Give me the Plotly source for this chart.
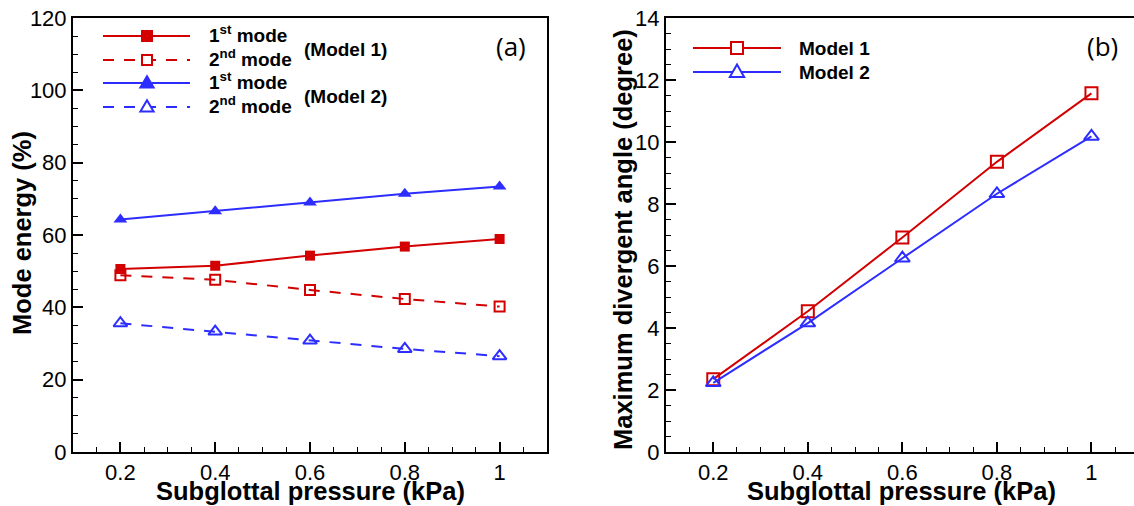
import plotly.graph_objects as go

# ---------------- data ----------------
pressure = [0.2, 0.4, 0.6, 0.8, 1.0]
x_tick_vals = [0.2, 0.4, 0.6, 0.8, 1.0]
x_tick_text = ["0.2", "0.4", "0.6", "0.8", "1"]

m1_first_mode = [50.6, 51.5, 54.3, 56.8, 58.9]
m1_second_mode = [48.9, 47.6, 44.8, 42.3, 40.2]
m2_first_mode = [64.3, 66.6, 69.0, 71.4, 73.4]
m2_second_mode = [35.6, 33.3, 30.8, 28.5, 26.5]

angle_model1 = [2.35, 4.54, 6.92, 9.36, 11.57]
angle_model2 = [2.23, 4.16, 6.25, 8.33, 10.18]

# ---------------- styles ----------------
RED = "#d20000"
BLUE = "#2d2dff"
DASH = "11px,10px"
W, H = 1134, 506
FONT = "Liberation Sans, Arial, sans-serif"


def px(x):
    return x / W


def py(y):
    return 1 - y / H


fig = go.Figure()

# panel (a)
fig.add_trace(go.Scatter(x=pressure, y=m1_first_mode, mode="lines+markers",
                         line=dict(color=RED, width=2),
                         marker=dict(symbol="square", size=10, color=RED),
                         xaxis="x", yaxis="y"))
fig.add_trace(go.Scatter(x=pressure, y=m1_second_mode, mode="lines+markers",
                         line=dict(color=RED, width=2, dash=DASH),
                         marker=dict(symbol="square-open", size=10, color=RED,
                                     line=dict(width=2, color=RED)),
                         xaxis="x", yaxis="y"))
fig.add_trace(go.Scatter(x=pressure, y=m2_first_mode, mode="lines+markers",
                         line=dict(color=BLUE, width=2),
                         marker=dict(symbol="triangle-up", size=12, color=BLUE),
                         xaxis="x", yaxis="y"))
fig.add_trace(go.Scatter(x=pressure, y=m2_second_mode, mode="lines+markers",
                         line=dict(color=BLUE, width=2, dash=DASH),
                         marker=dict(symbol="triangle-up-open", size=12, color=BLUE,
                                     line=dict(width=2, color=BLUE)),
                         xaxis="x", yaxis="y"))

# panel (b)
fig.add_trace(go.Scatter(x=pressure, y=angle_model1, mode="lines+markers",
                         line=dict(color=RED, width=2),
                         marker=dict(symbol="square-open", size=12, color=RED,
                                     line=dict(width=2, color=RED)),
                         xaxis="x2", yaxis="y2"))
fig.add_trace(go.Scatter(x=pressure, y=angle_model2, mode="lines+markers",
                         line=dict(color=BLUE, width=2),
                         marker=dict(symbol="triangle-up-open", size=13, color=BLUE,
                                     line=dict(width=2, color=BLUE)),
                         xaxis="x2", yaxis="y2"))

axis_common = dict(
    showgrid=False, zeroline=False, showline=True, linewidth=2, linecolor="black",
    ticks="inside", ticklen=10, tickwidth=2, tickcolor="black", automargin=False,
    tickfont=dict(size=22, color="black", family=FONT),
)

ydom = [py(452), py(18)]

fig.update_layout(
    width=W, height=H,
    margin=dict(l=0, r=0, t=0, b=0, pad=0, autoexpand=False),
    paper_bgcolor="white", plot_bgcolor="white",
    showlegend=False,
    font=dict(family=FONT, color="black"),
    xaxis=dict(domain=[px(73), px(547)], range=[0.1, 1.1], anchor="y",
               tickvals=x_tick_vals, ticktext=x_tick_text, mirror=True,
               minor=dict(dtick=0.05, tick0=0.1, ticks="inside", ticklen=5,
                          tickwidth=1, tickcolor="black"),
               **axis_common),
    yaxis=dict(domain=ydom, range=[0, 120], anchor="x", dtick=20, tick0=0,
               mirror=True,
               minor=dict(dtick=5, tick0=0, ticks="inside", ticklen=5,
                          tickwidth=1, tickcolor="black"),
               **axis_common),
    xaxis2=dict(domain=[px(666), 1.0], range=[0.1, 1.09], anchor="y2",
                tickvals=x_tick_vals, ticktext=x_tick_text, mirror=True,
                minor=dict(dtick=0.05, tick0=0.1, ticks="inside", ticklen=5,
                           tickwidth=1, tickcolor="black"),
                **axis_common),
    yaxis2=dict(domain=ydom, range=[0, 14], anchor="x2", dtick=2, tick0=0,
                mirror=False,
                minor=dict(dtick=0.5, tick0=0, ticks="inside", ticklen=5,
                           tickwidth=1, tickcolor="black"),
                **axis_common),
)

TITLE_FONT = dict(size=25.5, color="black", family=FONT, weight="bold")
LEG_FONT = dict(size=19, color="black", family=FONT, weight="bold")
annotations = [
    dict(text="Mode energy (%)", x=px(22), y=py(233), textangle=-90,
         font=TITLE_FONT),
    dict(text="Subglottal pressure (kPa)", x=px(310), y=py(491), font=TITLE_FONT),
    dict(text="Maximum divergent angle (degree)", x=px(623), y=py(240),
         textangle=-90, font=TITLE_FONT),
    dict(text="Subglottal pressure (kPa)", x=px(901), y=py(491), font=TITLE_FONT),
    dict(text="(a)", x=px(511), y=py(46),
         font=dict(size=26, color="black", family="Open Sans, sans-serif")),
    dict(text="(b)", x=px(1102), y=py(46),
         font=dict(size=26, color="black", family="Open Sans, sans-serif")),
    # legend texts panel (a)
    dict(text="1<sup>st</sup> mode", x=px(207), y=py(34), xanchor="left", font=LEG_FONT),
    dict(text="2<sup>nd</sup> mode", x=px(207), y=py(58), xanchor="left", font=LEG_FONT),
    dict(text="1<sup>st</sup> mode", x=px(207), y=py(81), xanchor="left", font=LEG_FONT),
    dict(text="2<sup>nd</sup> mode", x=px(207), y=py(105), xanchor="left", font=LEG_FONT),
    dict(text="(Model 1)", x=px(302), y=py(50), xanchor="left", font=LEG_FONT),
    dict(text="(Model 2)", x=px(302), y=py(96), xanchor="left", font=LEG_FONT),
    # legend texts panel (b)
    dict(text="Model 1", x=px(797), y=py(48), xanchor="left", font=LEG_FONT),
    dict(text="Model 2", x=px(797), y=py(72), xanchor="left", font=LEG_FONT),
]
for a in annotations:
    a.update(xref="paper", yref="paper", showarrow=False)
    a.setdefault("xanchor", "center")
    a.setdefault("yanchor", "middle")
fig.update_layout(annotations=annotations)

# legend samples as layout shapes
shapes = []


def leg_line(x0, x1, y, color, dash):
    shapes.append(dict(type="line", xref="paper", yref="paper",
                       x0=px(x0), x1=px(x1), y0=py(y), y1=py(y),
                       line=dict(color=color, width=2, dash=dash)))


def leg_square(cx, cy, s, color, filled):
    shapes.append(dict(type="rect", xref="paper", yref="paper",
                       x0=px(cx - s / 2), x1=px(cx + s / 2),
                       y0=py(cy - s / 2), y1=py(cy + s / 2),
                       fillcolor=color if filled else "white",
                       line=dict(color=color, width=2)))


def leg_triangle(cx, cy, s, color, filled):
    w = s * 1.1
    h = s * 0.95
    pts = [(cx, cy - h * 0.6), (cx + w / 2, cy + h * 0.4), (cx - w / 2, cy + h * 0.4)]
    path = "M {} {} L {} {} L {} {} Z".format(*[v for p in pts for v in (px(p[0]), py(p[1]))])
    shapes.append(dict(type="path", xref="paper", yref="paper", path=path,
                       fillcolor=color if filled else "white",
                       line=dict(color=color, width=2)))


leg_line(103, 190, 36, RED, "solid")
leg_square(147, 36, 10, RED, True)
leg_line(103, 190, 60, RED, DASH)
leg_square(147, 60, 10, RED, False)
leg_line(103, 190, 83, BLUE, "solid")
leg_triangle(147, 83, 12, BLUE, True)
leg_line(103, 190, 107, BLUE, DASH)
leg_triangle(147, 107, 12, BLUE, False)

leg_line(693, 781, 48, RED, "solid")
leg_square(737, 48, 12, RED, False)
leg_line(693, 781, 72, BLUE, "solid")
leg_triangle(737, 72, 13, BLUE, False)

fig.update_layout(shapes=shapes)

fig.write_html("out.html")
